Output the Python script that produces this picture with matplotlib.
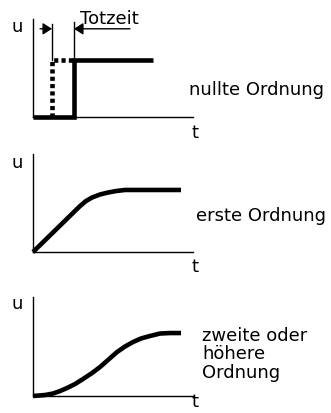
import matplotlib
matplotlib.use("Agg")
import matplotlib.pyplot as plt

# ---- data (t in arbitrary time units 0..10, u normalised 0..1) ----
# panel 1: zero order with dead time
step_t = [0.0, 2.56, 2.56, 7.5]
step_u = [0.0, 0.0, 0.58, 0.58]
ideal_t = [1.19, 1.19, 2.56]
ideal_u = [0.0, 0.58, 0.58]
marker_left_t = 1.19
marker_right_t = 2.56
marker_tops = [0.95, 0.97]
arrow_u = 0.90
arrow_left_start = 0.44
arrow_right_start = 6.06

# panel 2: first order
first_t = [0.0, 2.94, 3.31, 3.69, 4.19, 4.69, 5.19, 5.75, 9.25]
first_u = [0.0, 0.469, 0.520, 0.556, 0.587, 0.607, 0.622, 0.633, 0.633]

# panel 3: second or higher order
second_t = [0.0, 0.75, 1.25, 1.69, 2.13, 2.63, 3.13, 3.69, 4.19, 4.69,
            5.25, 5.75, 6.25, 6.75, 7.31, 7.94, 8.56, 9.25]
second_u = [0.0, 0.01, 0.025, 0.05, 0.081, 0.121, 0.172, 0.232, 0.293, 0.364,
            0.444, 0.5, 0.545, 0.581, 0.606, 0.631, 0.636, 0.636]

labels = ["nullte Ordnung", "erste Ordnung", "zweite oder\nhöhere\nOrdnung"]
label_pos = [(9.75, 0.235), (10.19, 0.33), (10.56, 0.19)]
t_label_u = [-0.204, -0.194, -0.10]

W, H = 331, 414
fig = plt.figure(figsize=(W / 100, H / 100), dpi=100)
fig.patch.set_facecolor("white")

# axes boxes in pixel coordinates: (left, top, right, bottom)
boxes = [(33, 20, 193, 118), (33, 155, 193, 253), (33, 298, 193, 397)]
axes = []
for (l, t, r, b) in boxes:
    ax = fig.add_axes([l / W, 1 - b / H, (r - l) / W, (b - t) / H])
    ax.set_xlim(0, 10)
    ax.set_ylim(0, 1)
    ax.set_xticks([])
    ax.set_yticks([])
    for s in ["top", "right"]:
        ax.spines[s].set_visible(False)
    for s in ["left", "bottom"]:
        ax.spines[s].set_linewidth(1.0)
        ax.spines[s].set_color("black")
    ax.patch.set_visible(False)
    axes.append(ax)

fs = 13
thick = 3.3

# panel 1
ax = axes[0]
ax.plot(step_t, step_u, color="black", lw=thick, solid_capstyle="butt",
        solid_joinstyle="miter", clip_on=False)
ax.plot(ideal_t, ideal_u, color="black", lw=thick, linestyle=(0, (0.9, 0.7)),
        dash_capstyle="butt", clip_on=False)
ax.plot([marker_left_t, marker_left_t], [ideal_u[1], marker_tops[0]],
        color="black", lw=1.0, clip_on=False)
ax.plot([marker_right_t, marker_right_t], [step_u[2], marker_tops[1]],
        color="black", lw=1.0, clip_on=False)
ap = dict(arrowstyle="-|>,head_length=0.55,head_width=0.35", lw=1.0,
          color="black", shrinkA=0, shrinkB=0)
ax.annotate("", xy=(marker_left_t, arrow_u), xytext=(arrow_left_start, arrow_u),
            arrowprops=ap, annotation_clip=False)
ax.annotate("", xy=(marker_right_t, arrow_u), xytext=(arrow_right_start, arrow_u),
            arrowprops=ap, annotation_clip=False)
ax.text(2.94, 0.96, "Totzeit", fontsize=fs, ha="left", va="baseline")

# panel 2
axes[1].plot(first_t, first_u, color="black", lw=thick, solid_capstyle="butt",
             solid_joinstyle="round", clip_on=False)
# panel 3
axes[2].plot(second_t, second_u, color="black", lw=thick, solid_capstyle="butt",
             solid_joinstyle="round", clip_on=False)

u_pos = [0.93, 0.92, 0.94]
for i, ax in enumerate(axes):
    ax.text(-1.0, u_pos[i], "u", fontsize=fs, ha="center", va="center")
    ax.text(10.125, t_label_u[i], "t", fontsize=fs, ha="center", va="baseline")
    x, y = label_pos[i]
    ax.text(x, y, labels[i], fontsize=fs, ha="left", va="baseline",
            linespacing=1.05)

fig.savefig("out.png", dpi=100, facecolor="white")
